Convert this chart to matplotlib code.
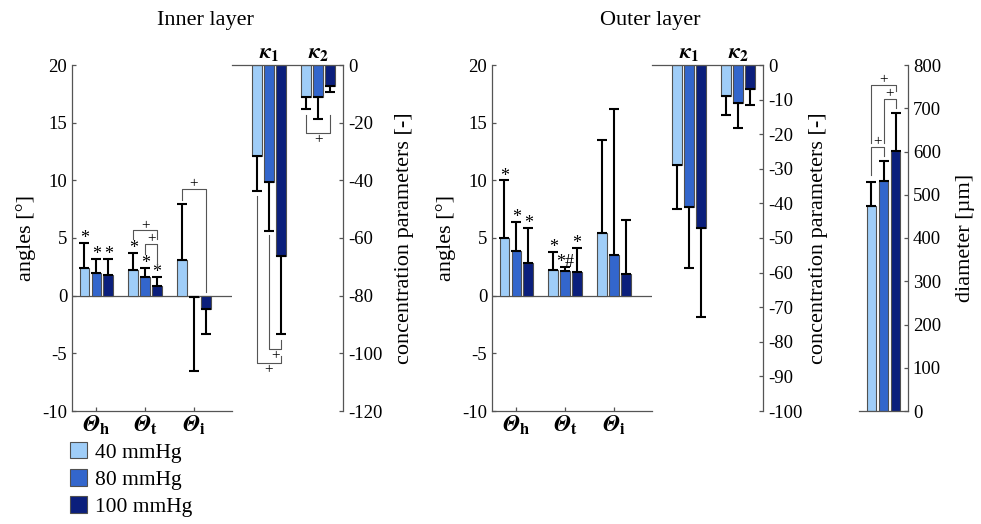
import numpy as np
import matplotlib
matplotlib.use("Agg")
import matplotlib.pyplot as plt
from matplotlib.patches import Patch

plt.rcParams["font.family"] = ["Liberation Serif", "DejaVu Serif"]
plt.rcParams["mathtext.fontset"] = "stix"
plt.rcParams["axes.unicode_minus"] = False

# ---- data ----
pressures = ["40 mmHg", "80 mmHg", "100 mmHg"]
colors = ["#9fcdf8", "#3366cc", "#0b1f7c"]

angle_labels = [r"$\mathbfit{\Theta}_\mathbf{h}$", r"$\mathbfit{\Theta}_\mathbf{t}$",
                r"$\mathbfit{\Theta}_\mathbf{i}$"]
kappa_labels = [r"$\mathbfit{\kappa}_\mathbf{1}$", r"$\mathbfit{\kappa}_\mathbf{2}$"]

# rows = angle group, cols = pressure
inner_angle_mean = [[2.37, 1.96, 1.82], [2.25, 1.65, 0.87], [3.06, -0.12, -1.16]]
inner_angle_sd = [[2.2, 1.22, 1.38], [1.45, 0.75, 0.75], [4.92, 6.38, 2.19]]
inner_kappa_mean = [[-31.6, -40.5, -66.3], [-11.2, -11.2, -7.2]]
inner_kappa_sd = [[12.0, 17.0, 27.1], [4.2, 7.6, 2.2]]

outer_angle_mean = [[5.0, 3.9, 2.83], [2.25, 2.11, 2.02], [5.43, 3.56, 1.91]]
outer_angle_sd = [[5.0, 2.46, 3.01], [1.51, 0.35, 2.14], [8.04, 12.64, 4.69]]
outer_kappa_mean = [[-28.9, -40.9, -47.2], [-8.9, -10.9, -7.0]]
outer_kappa_sd = [[12.8, 17.7, 25.5], [5.5, 7.4, 4.7]]

diameter_mean = [474, 532, 602]
diameter_sd = [55, 47, 87]

inner_angle_marks = [["*", "*", "*"], ["*", "*", "*"], ["", "", ""]]
outer_angle_marks = [["*", "*", "*"], ["*", "*#", "*"], ["", "", ""]]

# brackets: (group, bar a, bar b, level, end a, end b)
inner_angle_brackets = [(1, 0, 2, 5.67, 4.9, 4.9), (1, 1, 2, 4.5, 3.6, 2.5),
                        (2, 0, 2, 9.28, 8.3, 0.3)]
inner_kappa_brackets = [(0, 0, 2, -103.3, -45.5, -101.0), (0, 1, 2, -98.6, -59.0, -95.3),
                        (1, 0, 2, -23.7, -17.5, -17.5)]
diameter_brackets = [(0, 0, 1, 611, 545, 590), (0, 0, 2, 754, 620, 740),
                     (0, 1, 2, 721, 620, 700)]

W, H = 981, 524
BW = 0.2
OFF = 0.245
SPINE = "#555555"


def pix_axes(fig, x0, y0, x1, y1):
    return fig.add_axes([x0 / W, 1 - y1 / H, (x1 - x0) / W, (y1 - y0) / H])


def draw_bars(ax, means, sds, marks=None):
    for g, (mrow, srow) in enumerate(zip(means, sds)):
        for i in range(3):
            x = g + 1 + (i - 1) * OFF
            m, s = mrow[i], srow[i]
            ax.bar(x, m, width=BW, color=colors[i], edgecolor="#505050", linewidth=0.8, zorder=2)
            yerr = [[0], [s]] if m >= 0 else [[s], [0]]
            ax.errorbar(x, m, yerr=yerr, fmt="none", ecolor="black", elinewidth=1.5,
                        capsize=3.6, capthick=1.5, zorder=3)
            if marks and marks[g][i]:
                ax.annotate(marks[g][i], (x, m + s), xytext=(0, -3), textcoords="offset points",
                            ha="center", va="bottom", fontsize=13)


def draw_brackets(ax, brackets, down=False):
    for g, a, b, lev, ea, eb in brackets:
        xa = g + 1 + (a - 1) * OFF
        xb = g + 1 + (b - 1) * OFF
        ax.plot([xa, xa, xb, xb], [ea, lev, lev, eb], color=SPINE, lw=0.8, zorder=4)
        if down:
            ax.annotate("+", ((xa + xb) / 2, lev), xytext=(0, 0), textcoords="offset points",
                        ha="center", va="top", fontsize=11)
        else:
            ax.annotate("+", ((xa + xb) / 2, lev), xytext=(0, -1), textcoords="offset points",
                        ha="center", va="bottom", fontsize=11)


def style_common(ax):
    for s in ax.spines.values():
        s.set_color(SPINE)
        s.set_linewidth(0.9)
    ax.tick_params(direction="in", length=3, width=0.9, color=SPINE, labelsize=13.5)
    ax.set_facecolor("none")


def angle_axis(ax, means, sds, marks):
    draw_bars(ax, means, sds, marks)
    ax.set_xlim(0.5, 3.78)
    ax.set_ylim(-10, 20)
    ax.set_yticks(np.arange(-10, 21, 5))
    ax.set_xticks([1, 2, 3])
    ax.axhline(0, color=SPINE, lw=0.9, zorder=1)
    ax.spines["top"].set_visible(False)
    ax.spines["right"].set_visible(False)
    style_common(ax)
    ax.set_xticklabels(angle_labels, fontsize=17)
    ax.tick_params(axis="x", pad=2)
    ax.set_ylabel("angles [°]", fontsize=16)
    ax.yaxis.set_label_coords(-0.225, 0.5)


def kappa_axis(ax, means, sds, ymin, step, labx):
    draw_bars(ax, means, sds)
    ax.set_xlim(0.25, 2.5)
    ax.set_ylim(ymin, 0)
    ax.set_yticks(np.arange(ymin, 1, step))
    ax.set_xticks([])
    ax.spines["left"].set_visible(False)
    ax.spines["bottom"].set_visible(False)
    ax.yaxis.tick_right()
    ax.yaxis.set_label_position("right")
    style_common(ax)
    ax.set_ylabel("concentration parameters [-]", fontsize=16)
    ax.yaxis.set_label_coords(labx, 0.5)
    for g, lab in enumerate(kappa_labels):
        ax.text(g + 1, 1.005, lab, transform=ax.get_xaxis_transform(), ha="center",
                va="bottom", fontsize=16)


fig = plt.figure(figsize=(W / 100, H / 100), dpi=100)

ax_ai = pix_axes(fig, 72, 65, 232, 411)
angle_axis(ax_ai, inner_angle_mean, inner_angle_sd, inner_angle_marks)
draw_brackets(ax_ai, inner_angle_brackets)

ax_ki = pix_axes(fig, 232, 65, 343, 411)
kappa_axis(ax_ki, inner_kappa_mean, inner_kappa_sd, -120, 20, 1.47)
draw_brackets(ax_ki, inner_kappa_brackets, down=True)

ax_ao = pix_axes(fig, 492, 65, 652, 411)
angle_axis(ax_ao, outer_angle_mean, outer_angle_sd, outer_angle_marks)

ax_ko = pix_axes(fig, 652, 65, 763, 411)
kappa_axis(ax_ko, outer_kappa_mean, outer_kappa_sd, -100, 10, 1.41)

ax_d = pix_axes(fig, 859, 65, 908, 411)
draw_bars(ax_d, [diameter_mean], [diameter_sd])
draw_brackets(ax_d, diameter_brackets)
ax_d.set_xlim(0.5, 1.5)
ax_d.set_ylim(0, 800)
ax_d.set_yticks(np.arange(0, 801, 100))
ax_d.set_xticks([])
ax_d.spines["left"].set_visible(False)
ax_d.spines["top"].set_visible(False)
ax_d.yaxis.tick_right()
ax_d.yaxis.set_label_position("right")
style_common(ax_d)
ax_d.set_ylabel("diameter [µm]", fontsize=16)
ax_d.yaxis.set_label_coords(1.98, 0.5)

fig.text(205 / W, 1 - 20 / H, "Inner layer", ha="center", va="center", fontsize=16)
fig.text(650 / W, 1 - 20 / H, "Outer layer", ha="center", va="center", fontsize=16)

handles = [Patch(facecolor=c, edgecolor="#505050", linewidth=0.8) for c in colors]
fig.legend(handles, pressures, loc="upper left", bbox_to_anchor=(70 / W, 1 - 442 / H),
           frameon=False, fontsize=15.5, handlelength=0.8, handleheight=0.8,
           handletextpad=0.35, labelspacing=0.3, borderpad=0, borderaxespad=0)

fig.savefig("out.png", dpi=100)
